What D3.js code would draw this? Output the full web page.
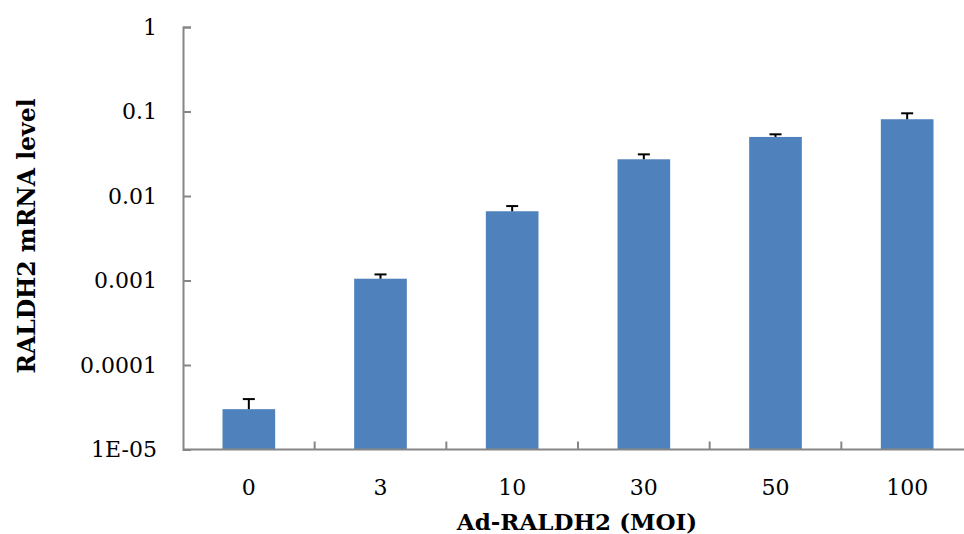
<!DOCTYPE html>
<html>
<head>
<meta charset="utf-8">
<script src="https://cdn.jsdelivr.net/npm/d3@7"></script>
<style>
  html, body { margin: 0; padding: 0; background: #fff; }
  svg { display: block; }
  text { font-family: "DejaVu Serif", "Liberation Serif", serif; fill: #000; }
</style>
</head>
<body>
<svg id="chart" width="964" height="534"></svg>
<script>
// RALDH2 mRNA expression by adenovirus dose (MOI)
const categories = ["0", "3", "10", "30", "50", "100"];
const means = [3.0e-5, 1.05e-3, 6.6e-3, 0.0272, 0.0500, 0.0810];
const errUpper = [0.95e-5, 0.13e-3, 1.0e-3, 0.0039, 0.0037, 0.0142];
const yTicks = [1e-5, 1e-4, 1e-3, 1e-2, 1e-1, 1];
const yTickLabels = ["1E-05", "0.0001", "0.001", "0.01", "0.1", "1"];
const xTitle = "Ad-RALDH2 (MOI)";
const yTitle = "RALDH2 mRNA level";

const svg = d3.select("#chart");
const plotLeft = 183, plotRight = 973, plotTop = 27, plotBottom = 449.5;
const axisColor = "#868686";
const barColor = "#4F81BD";

const x = d3.scaleBand().domain(categories).range([plotLeft, plotRight]).paddingInner(0.6).paddingOuter(0.3);
const xCat = d3.scaleBand().domain(categories).range([plotLeft, plotRight]);
const y = d3.scaleLog().domain([1e-5, 1]).range([plotBottom, plotTop]);

// bars
svg.append("g").selectAll("rect")
  .data(categories)
  .join("rect")
  .attr("x", d => x(d))
  .attr("width", x.bandwidth())
  .attr("y", (d, i) => y(means[i]))
  .attr("height", (d, i) => plotBottom - y(means[i]))
  .attr("fill", barColor);

// upper error bars
const eg = svg.append("g").attr("stroke", "#000").attr("stroke-width", 2);
categories.forEach((c, i) => {
  const cx = x(c) + x.bandwidth() / 2;
  const yTop = y(means[i] + errUpper[i]);
  eg.append("line").attr("x1", cx).attr("x2", cx).attr("y1", y(means[i])).attr("y2", yTop);
  eg.append("line").attr("x1", cx - 6).attr("x2", cx + 6).attr("y1", yTop).attr("y2", yTop);
});

// y axis: ticks point inward
const yAxis = d3.axisLeft(y)
  .tickValues(yTicks)
  .tickFormat((d, i) => yTickLabels[i])
  .tickSize(-8)
  .tickPadding(26);
const gy = svg.append("g").attr("transform", `translate(${plotLeft},0)`).call(yAxis);
gy.select(".domain").attr("stroke", axisColor).attr("stroke-width", 2);
gy.selectAll(".tick line").attr("stroke", axisColor).attr("stroke-width", 2);
gy.selectAll(".tick text").style("font-size", "22px").attr("font-family", "DejaVu Serif");

// x axis: category boundary ticks pointing up
const gx = svg.append("g");
gx.append("line").attr("x1", plotLeft).attr("x2", plotRight).attr("y1", plotBottom).attr("y2", plotBottom)
  .attr("stroke", axisColor).attr("stroke-width", 2);
gx.selectAll("line.xt")
  .data(categories.slice(1))
  .join("line")
  .attr("class", "xt")
  .attr("x1", d => xCat(d)).attr("x2", d => xCat(d))
  .attr("y1", plotBottom).attr("y2", plotBottom - 8)
  .attr("stroke", axisColor).attr("stroke-width", 2);
gx.selectAll("text")
  .data(categories)
  .join("text")
  .attr("x", d => x(d) + x.bandwidth() / 2)
  .attr("y", 495)
  .attr("text-anchor", "middle")
  .style("font-size", "22px")
  .text(d => d);

// axis titles
svg.append("text")
  .attr("x", 577).attr("y", 530)
  .attr("text-anchor", "middle")
  .style("font-size", "23px").style("font-weight", "bold")
  .text(xTitle);

svg.append("text")
  .attr("transform", `translate(35,236) rotate(-90)`)
  .attr("text-anchor", "middle")
  .style("font-size", "23.5px").style("font-weight", "bold")
  .text(yTitle);
</script>
</body>
</html>
